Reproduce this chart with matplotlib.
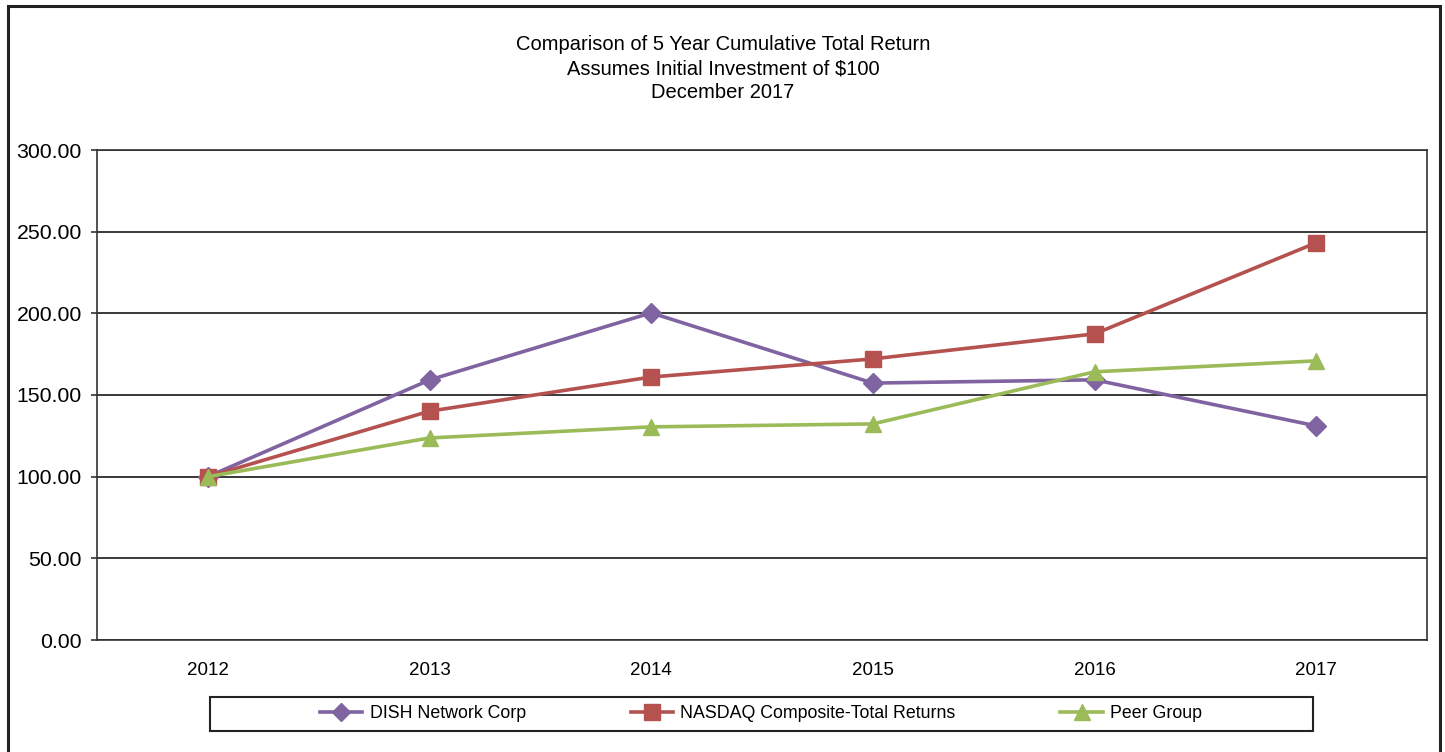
import matplotlib.pyplot as plt
from matplotlib.patches import Rectangle

plt.rcParams['font.family'] = ['Liberation Sans', 'DejaVu Sans']

years = ['2012', '2013', '2014', '2015', '2016', '2017']
dish = [100.00, 159.2, 200.3, 157.3, 159.3, 131.1]
nasdaq = [100.00, 140.1, 161.0, 172.1, 187.4, 243.2]
peer = [100.00, 123.7, 130.5, 132.3, 164.2, 170.9]
yticks = [0, 50, 100, 150, 200, 250, 300]

fig = plt.figure(figsize=(14.45, 7.52), dpi=100)
ax = fig.add_axes([97 / 1445, 1 - 640 / 752, 1330 / 1445, 490 / 752])

x = range(len(years))
ax.plot(x, dish, '-D', color='#8064A2', lw=2.6, ms=10, label='DISH Network Corp')
ax.plot(x, nasdaq, '-s', color='#B5524F', lw=2.6, ms=11.5, label='NASDAQ Composite-Total Returns')
ax.plot(x, peer, '-^', color='#9BBB59', lw=2.6, ms=12, label='Peer Group')

ax.set_xlim(-0.5, 5.5)
ax.set_ylim(0, 300)
ax.set_xticks(list(x))
ax.set_xticklabels(years)
ax.set_yticks(yticks)
ax.set_yticklabels(['%.2f' % v for v in yticks])
ax.tick_params(axis='y', length=4, width=1.2, color='#333333', labelsize=15.3, pad=7)
ax.tick_params(axis='x', length=0, labelsize=13.5, pad=16)
for s in ax.spines.values():
    s.set_color('#333333')
    s.set_linewidth(1.2)
ax.yaxis.grid(True, color='#2a2a2a', lw=1.3)
ax.set_axisbelow(True)

fig.text(723 / 1445, 1 - 45 / 752, 'Comparison of 5 Year Cumulative Total Return',
         ha='center', va='center', fontsize=14.5)
fig.text(723 / 1445, 1 - 69 / 752, 'Assumes Initial Investment of $100',
         ha='center', va='center', fontsize=14.5)
fig.text(723 / 1445, 1 - 93 / 752, 'December 2017',
         ha='center', va='center', fontsize=14.5)

# outer frame
fig.patches.append(Rectangle((8 / 1445, -0.05), 1432 / 1445, 1.05 - 6 / 752,
                             transform=fig.transFigure, fill=False,
                             edgecolor='#222222', lw=2.2))
# legend frame
fig.patches.append(Rectangle((210 / 1445, 1 - 731 / 752), 1103 / 1445, 34 / 752,
                             transform=fig.transFigure, fill=False,
                             edgecolor='#222222', lw=1.5))

fig.legend(loc='center', bbox_to_anchor=(761 / 1445, 1 - 714 / 752), ncol=3,
           frameon=False, fontsize=12.8, columnspacing=5.9, handlelength=2.4,
           handletextpad=0.4, markerscale=0.95)

fig.savefig('out.png', dpi=100)
